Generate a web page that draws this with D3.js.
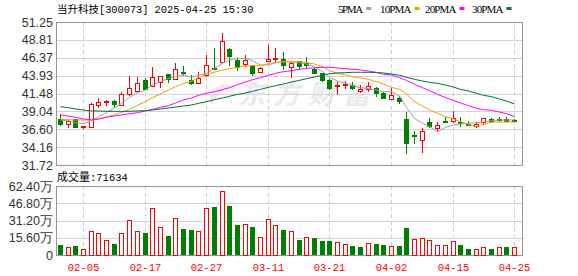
<!DOCTYPE html>
<html>
<head>
<meta charset="utf-8">
<script src="https://cdn.jsdelivr.net/npm/d3@7"></script>
<style>
  body { margin: 0; background: #fff; }
  svg { display: block; }
</style>
</head>
<body>
<div id="chart"></div>
<script>
// Trading days shown (MM-DD), 2025
const dates = ["01-23","01-24","01-27","02-05","02-06","02-07","02-10","02-11","02-12","02-13","02-14","02-17","02-18","02-19","02-20","02-21","02-24","02-25","02-26","02-27","02-28","03-03","03-04","03-05","03-06","03-07","03-10","03-11","03-12","03-13","03-14","03-17","03-18","03-19","03-20","03-21","03-24","03-25","03-26","03-27","03-28","03-31","04-01","04-02","04-03","04-07","04-08","04-09","04-10","04-11","04-14","04-15","04-16","04-17","04-18","04-21","04-22","04-23","04-24","04-25"];

const open  = [37.96,37.27,37.96,36.91,36.96,39.91,40.28,40.51,39.87,41.37,41.87,43.33,42.55,43.01,44.15,43.47,44.38,43.33,42.97,44.01,45.01,45.83,47.52,46.06,45.56,45.24,44.47,45.97,46.15,46.15,45.15,45.88,45.61,44.83,44.24,43.33,42.55,42.69,42.65,41.87,42.05,42.28,41.60,40.78,40.92,38.00,35.82,35.09,37.64,36.82,37.73,37.68,37.64,37.28,37.05,37.64,38.05,38.05,38.05,37.87];
const close = [37.27,37.73,36.96,37.05,40.05,40.37,40.51,40.05,41.42,42.19,42.97,42.10,43.69,43.88,43.42,44.79,44.33,42.97,43.65,45.38,44.88,48.66,46.65,45.15,46.06,44.24,44.97,46.24,46.29,45.38,45.61,45.29,45.33,44.33,43.33,42.19,42.65,42.78,42.28,42.10,42.51,41.60,40.92,41.23,40.46,34.77,35.73,36.36,37.05,37.14,37.64,38.09,37.55,37.18,37.37,38.09,37.77,37.96,37.77,37.82];
const high  = [38.64,37.87,38.05,37.10,40.14,40.82,40.60,40.60,41.65,43.88,43.69,43.56,45.15,43.88,44.15,45.70,45.29,44.01,44.38,46.74,47.74,49.79,47.74,46.29,46.74,45.38,45.15,48.11,47.65,47.11,45.83,45.97,46.42,44.92,44.33,43.42,43.10,43.19,43.10,42.65,43.10,42.42,41.74,42.19,41.19,38.91,36.36,36.82,38.18,37.55,38.23,39.14,38.23,37.73,37.59,38.18,38.18,38.27,38.32,38.00];
const low   = [37.20,36.96,36.96,36.82,36.86,39.69,39.91,39.60,39.87,41.28,41.74,42.05,42.51,42.42,43.10,43.42,44.01,42.74,42.87,43.88,44.79,45.74,45.38,44.69,45.24,44.01,44.38,45.92,45.79,44.79,43.78,44.92,45.15,44.24,43.24,42.05,41.42,42.19,42.15,41.74,41.83,41.19,40.83,40.73,40.23,33.41,34.77,33.54,36.96,36.50,37.60,37.64,37.05,37.18,36.96,37.28,37.68,37.77,37.68,37.73];
const prevClose = 38.10; // close of the day before the first candle

// Volume, in 万
const volume = [9.0,6.9,8.1,5.1,21.7,19.6,13.3,9.9,19.6,31.4,21.7,19.9,42.2,25.3,17.2,33.2,23.5,22.6,21.7,42.2,43.4,57.6,44.3,27.1,28.0,25.3,16.0,32.3,26.8,22.6,21.7,13.6,16.0,15.4,12.7,12.7,11.8,9.6,8.1,7.2,10.6,9.9,9.0,8.1,8.1,24.4,14.2,15.1,13.6,8.7,8.7,12.7,8.7,5.4,5.1,6.9,5.1,6.9,7.2,7.1634];

// Moving averages
const ma5  = [37.87,37.73,37.50,37.37,37.78,38.32,38.91,39.51,40.14,40.96,41.60,41.96,42.65,43.10,43.56,43.78,44.01,43.69,44.01,44.24,44.92,45.61,46.06,46.29,46.29,45.97,45.38,45.38,45.70,45.79,45.79,45.70,45.51,45.15,44.47,43.69,43.19,42.87,42.55,42.28,42.15,41.96,41.74,41.74,41.14,39.60,38.09,37.41,36.96,36.27,36.86,37.18,37.32,37.41,37.50,37.59,37.78,37.87,37.87,37.87];
const ma10 = [37.96,37.91,37.87,37.87,37.82,38.00,38.32,38.55,38.91,39.32,39.87,40.37,40.92,41.42,41.96,42.42,42.87,43.15,43.69,44.10,44.38,44.70,44.88,45.06,45.20,45.29,45.33,45.56,45.70,45.88,45.83,45.79,45.70,45.51,45.15,44.60,44.24,44.01,43.78,43.60,43.42,43.10,42.78,42.33,42.05,41.42,40.37,39.78,39.23,38.78,38.32,38.00,37.64,37.27,37.00,37.27,37.55,37.59,37.59,37.59];
const ma20 = [38.55,38.41,38.23,38.00,37.91,38.00,38.23,38.41,38.55,38.73,38.87,39.10,39.32,39.60,39.82,40.19,40.60,40.87,41.24,41.51,41.74,42.01,42.28,42.69,43.06,43.37,43.65,43.97,44.24,44.47,44.60,44.79,44.92,45.01,45.06,45.06,44.97,44.88,44.79,44.70,44.56,44.38,44.10,44.01,43.65,43.28,42.74,42.28,41.87,41.37,40.92,40.55,40.19,39.82,39.46,39.28,39.19,38.96,38.73,38.32];
const ma30 = [39.69,39.55,39.37,39.23,39.10,39.10,39.05,39.05,39.05,39.05,39.10,39.14,39.23,39.37,39.51,39.64,39.78,39.92,40.14,40.37,40.64,40.87,41.10,41.37,41.55,41.78,42.05,42.33,42.55,42.78,43.06,43.28,43.51,43.74,43.97,44.19,44.29,44.33,44.38,44.38,44.38,44.33,44.29,44.15,43.97,43.69,43.42,43.19,43.01,42.87,42.65,42.37,42.05,41.83,41.51,41.24,41.05,40.73,40.46,40.05];

const priceTicks = [31.72, 34.16, 36.60, 39.04, 41.48, 43.93, 46.37, 48.81, 51.25];
const volTicks = [0, 15.6, 31.2, 46.8, 62.4];
const xTicks = ["02-05","02-17","02-27","03-11","03-21","04-02","04-15","04-25"];

const maNames = ["5PMA", "10PMA", "20PMA", "30PMA"];
const maColors = ["#a0a0a0", "#f0a000", "#ff00ff", "#00703c"];

const width = 578, height = 276;
const left = 56, right = 522;
const priceTop = 22, priceBottom = 165;
const volTop = 186, volBottom = 255;
const up = "#ff0000", down = "#008000";

const x = d3.scaleBand()
    .domain(dates)
    .range([left, 518]);
const cx = d => Math.round(x(d) + x.bandwidth() / 2);

const y = d3.scaleLinear()
    .domain([31.72, 51.25])
    .range([priceBottom, priceTop]);

const yv = d3.scaleLinear()
    .domain([0, 62.4])
    .range([volBottom, volTop]);

const svg = d3.create("svg")
    .attr("width", width)
    .attr("height", height)
    .attr("font-family", "'Liberation Sans', Arial, sans-serif");

// title + legend
const title = svg.append("text")
    .attr("x", 57).attr("y", 13)
    .attr("font-size", 11).attr("fill", "#000");
title.append("tspan").attr("font-family", "'Noto Sans CJK SC'").attr("font-size", 10.5).text("当升科技");
title.append("tspan").attr("font-family", "'Liberation Mono', monospace").attr("font-size", 10.3).text("[300073] 2025-04-25 15:30");

const legendX = [338, 380, 425, 472];
maNames.forEach((name, i) => {
  svg.append("text")
      .attr("x", legendX[i]).attr("y", 12.5)
      .attr("font-family", "'Liberation Serif', serif")
      .attr("font-size", 11)
      .attr("textLength", name.length * 6.3)
      .attr("fill", "#000")
      .text(name);
  svg.append("rect")
      .attr("x", legendX[i] + name.length * 6.3 + 3).attr("y", 7)
      .attr("width", 5).attr("height", 3)
      .attr("fill", maColors[i]);
});

// watermark
svg.append("text")
    .attr("x", 238).attr("y", 104)
    .attr("font-family", "'Noto Sans CJK SC'")
    .attr("font-size", 27)
    .attr("font-weight", "bold")
    .attr("font-style", "italic")
    .attr("letter-spacing", 8)
    .attr("fill", "#e9e9ee")
    .text("东方财富");
svg.append("path")
    .attr("d", "M222,84 C210,90 205,100 214,106 C212,98 220,92 232,88 L226,104 L236,86 Z")
    .attr("fill", "#e9e9ee");

// gridlines - price panel
const grid = svg.append("g").attr("shape-rendering", "crispEdges");
grid.selectAll(".ph")
  .data(priceTicks.slice(1, -1))
  .join("line")
    .attr("x1", left).attr("x2", right)
    .attr("y1", d => Math.round(y(d)) + 0.5).attr("y2", d => Math.round(y(d)) + 0.5)
    .attr("stroke", "#d4d4d4");
grid.selectAll(".vh")
  .data(volTicks.slice(1, -1))
  .join("line")
    .attr("x1", left).attr("x2", right)
    .attr("y1", d => Math.round(yv(d)) + 0.5).attr("y2", d => Math.round(yv(d)) + 0.5)
    .attr("stroke", "#d4d4d4");
xTicks.forEach(t => {
  [[priceTop, priceBottom], [volTop, volBottom]].forEach(([a, b]) => {
    grid.append("line")
        .attr("x1", cx(t) + 0.5).attr("x2", cx(t) + 0.5)
        .attr("y1", a).attr("y2", b)
        .attr("stroke", "#cfcfcf")
        .attr("stroke-dasharray", "4,3");
  });
});

// frames
[[priceTop, priceBottom], [volTop, volBottom]].forEach(([a, b]) => {
  svg.append("rect")
      .attr("x", left + 0.5).attr("y", a + 0.5)
      .attr("width", right - left).attr("height", b - a)
      .attr("fill", "none")
      .attr("stroke", "#959595")
      .attr("shape-rendering", "crispEdges");
});

// y axis labels
svg.append("g")
  .selectAll("text")
  .data(priceTicks)
  .join("text")
    .attr("x", 53).attr("y", d => y(d) + 4.5)
    .attr("text-anchor", "end")
    .attr("font-size", 12.5)
    .attr("fill", "#333")
    .text(d => d.toFixed(2));

svg.append("g")
  .selectAll("text")
  .data(volTicks)
  .join("text")
    .attr("x", 53).attr("y", d => yv(d) + 4.5)
    .attr("text-anchor", "end")
    .attr("font-size", 12.5)
    .attr("fill", "#333")
    .text(d => d === 0 ? "0" : d.toFixed(2) + "万");

// x axis labels
svg.append("g")
  .selectAll("text")
  .data(xTicks)
  .join("text")
    .attr("x", d => cx(d) + 0.5).attr("y", 271)
    .attr("text-anchor", "middle")
    .attr("font-family", "'Liberation Mono', monospace")
    .attr("font-size", 10.5)
    .attr("fill", "#ff0000")
    .text(d => d);

// volume caption
const cap = svg.append("text").attr("x", 57).attr("y", 181).attr("fill", "#000");
cap.append("tspan").attr("font-family", "'Noto Sans CJK SC'").attr("font-size", 11).text("成交量");
cap.append("tspan").attr("font-family", "'Liberation Mono', monospace").attr("font-size", 10.5).text(":" + Math.round(volume[volume.length - 1] * 10000));

// candles
const bars = dates.map((d, i) => ({
  d, o: open[i], c: close[i], h: high[i], l: low[i], v: volume[i],
  rise: close[i] >= open[i],
  volUp: close[i] >= (i === 0 ? prevClose : close[i - 1])
}));

const candles = svg.append("g").attr("shape-rendering", "crispEdges");
candles.selectAll("line")
  .data(bars)
  .join("line")
    .attr("x1", b => cx(b.d) + 0.5).attr("x2", b => cx(b.d) + 0.5)
    .attr("y1", b => Math.round(y(b.h))).attr("y2", b => Math.round(y(b.l)) + 1)
    .attr("stroke", b => b.rise ? up : down);
candles.selectAll("rect")
  .data(bars)
  .join("rect")
    .attr("x", b => b.rise ? cx(b.d) - 1.5 : cx(b.d) - 2)
    .attr("y", b => Math.round(y(Math.max(b.o, b.c))) + (b.rise ? 0.5 : 0))
    .attr("width", b => b.rise ? 4 : 5)
    .attr("height", b => Math.max(1, Math.round(y(Math.min(b.o, b.c))) - Math.round(y(Math.max(b.o, b.c)))) + (b.rise ? 0 : 1))
    .attr("fill", b => b.rise ? "#fff" : down)
    .attr("stroke", b => b.rise ? up : "none");

// moving averages
const line = d3.line()
    .x((v, i) => cx(dates[i]) + 0.5)
    .y(v => y(v));
[ma5, ma10, ma20, ma30].forEach((s, k) => {
  svg.append("path")
      .attr("d", line(s))
      .attr("fill", "none")
      .attr("stroke", maColors[k])
      .attr("stroke-width", 1);
});

// volume bars
svg.append("g").attr("shape-rendering", "crispEdges")
  .selectAll("rect")
  .data(bars)
  .join("rect")
    .attr("x", b => b.volUp ? cx(b.d) - 1.5 : cx(b.d) - 2)
    .attr("y", b => Math.round(yv(b.v)) + (b.volUp ? 0.5 : 0))
    .attr("width", b => b.volUp ? 4 : 5)
    .attr("height", b => volBottom - Math.round(yv(b.v)) - (b.volUp ? 0.5 : 0))
    .attr("fill", b => b.volUp ? "#fff" : down)
    .attr("stroke", b => b.volUp ? up : "none");

document.getElementById("chart").append(svg.node());
</script>
</body>
</html>
